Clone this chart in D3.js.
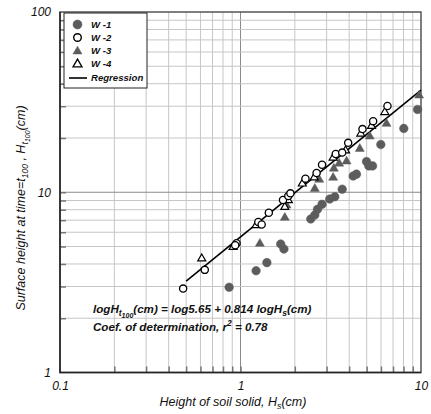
<!DOCTYPE html>
<html>
<head>
<meta charset="utf-8">
<script src="https://cdn.jsdelivr.net/npm/d3@7/dist/d3.min.js"></script>
<style>
  html, body { margin: 0; padding: 0; background: #fff; }
  svg { display: block; font-family: "Liberation Sans", Arial, sans-serif; }
</style>
</head>
<body>
<svg id="chart" width="431" height="414"></svg>
<script>
// Height of soil solid Hs (cm) vs. surface height at t100, Ht100 (cm)
const w1Hs = [0.865, 1.22, 1.40, 1.67, 1.74, 2.45, 2.58, 2.67, 2.83, 3.12, 3.33, 3.66, 4.21, 4.39, 4.99, 5.14, 5.39, 5.99, 8.03, 9.57];
const w1H  = [2.97, 3.67, 4.07, 5.16, 4.84, 7.11, 7.48, 8.04, 8.57, 9.17, 9.44, 10.4, 12.3, 12.6, 14.8, 14.0, 14.0, 18.4, 22.6, 28.8];

const w2Hs = [0.481, 0.634, 0.951, 0.935, 1.255, 1.31, 1.435, 1.72, 1.84, 1.89, 2.29, 2.64, 2.83, 3.37, 3.66, 3.95, 4.74, 5.43, 6.52];
const w2H  = [2.92, 3.71, 5.21, 5.08, 6.84, 6.62, 7.70, 9.05, 9.53, 9.86, 11.9, 12.8, 14.2, 16.3, 16.6, 18.8, 22.4, 24.8, 30.1];

const w3Hs = [1.28, 1.76, 1.80, 2.58, 2.73, 3.26, 3.29, 3.52, 3.87, 4.58, 5.20, 6.44, 9.76];
const w3H  = [5.21, 7.26, 8.49, 10.5, 11.8, 12.1, 13.6, 14.5, 14.9, 17.5, 20.5, 24.1, 34.6];

const w4Hs = [0.610, 0.910, 1.22, 1.76, 1.84, 2.20, 2.56, 3.26, 3.82, 4.64, 5.32, 6.30];
const w4H  = [4.30, 4.99, 6.58, 8.31, 9.05, 11.2, 12.1, 15.6, 17.1, 21.2, 23.4, 27.9];

// log Ht100 = log 5.65 + 0.814 log Hs
const regIntercept = 5.65;
const regSlope = 0.814;
const regHsRange = [0.5, 10];
const rSquared = 0.78;

const seriesNames = ["W -1", "W -2", "W -3", "W -4", "Regression"];
const xTickLabels = [0.1, 1, 10];
const yTickLabels = [1, 10, 100];

const svg = d3.select("#chart");
const plot = { left: 60, right: 421, top: 12, bottom: 372.5 };

const x = d3.scaleLog().domain([0.1, 10]).range([plot.left, plot.right]);
const y = d3.scaleLog().domain([1, 100]).range([plot.bottom, plot.top]);

const fillGray = "#5c5c5c";

// grid
const gx = x.ticks().filter(v => v > 0.1 && v < 10);
const gy = y.ticks().filter(v => v > 1 && v < 100);
const isDecade = v => Math.abs(Math.log10(v) - Math.round(Math.log10(v))) < 1e-9;

svg.append("g").selectAll("line").data(gx).join("line")
  .attr("x1", d => x(d)).attr("x2", d => x(d))
  .attr("y1", plot.top).attr("y2", plot.bottom)
  .attr("stroke", d => isDecade(d) ? "#8a8a8a" : "#c6c6c6")
  .attr("stroke-width", 1);
svg.append("g").selectAll("line").data(gy).join("line")
  .attr("y1", d => y(d)).attr("y2", d => y(d))
  .attr("x1", plot.left).attr("x2", plot.right)
  .attr("stroke", d => isDecade(d) ? "#8a8a8a" : "#c6c6c6")
  .attr("stroke-width", 1);

// inward minor ticks
const tickAxisX = d3.axisBottom(x).tickValues(gx).tickSize(-6).tickFormat("");
const tickAxisY = d3.axisLeft(y).tickValues(gy).tickSize(-6).tickFormat("");
const tx = svg.append("g").attr("transform", `translate(0,${plot.bottom})`).call(tickAxisX);
const ty = svg.append("g").attr("transform", `translate(${plot.left},0)`).call(tickAxisY);
[tx, ty].forEach(g => {
  g.select(".domain").remove();
  g.selectAll("line").attr("stroke", "#777").attr("stroke-width", 1.5);
});

// frame
svg.append("rect")
  .attr("x", plot.left).attr("y", plot.top)
  .attr("width", plot.right - plot.left).attr("height", plot.bottom - plot.top)
  .attr("fill", "none").attr("stroke", "#555").attr("stroke-width", 1.5);
svg.append("path")
  .attr("d", `M${plot.left},${plot.top}V${plot.bottom}H${plot.right}`)
  .attr("fill", "none").attr("stroke", "#222").attr("stroke-width", 1.5);

// tick labels
const fmt = d => String(d);
const xLab = svg.append("g").attr("transform", `translate(0,${plot.bottom})`)
  .call(d3.axisBottom(x).tickValues(xTickLabels).tickSize(0).tickPadding(9).tickFormat(fmt));
const yLab = svg.append("g").attr("transform", `translate(${plot.left},0)`)
  .call(d3.axisLeft(y).tickValues(yTickLabels).tickSize(0).tickPadding(9).tickFormat(fmt));
[xLab, yLab].forEach(g => {
  g.select(".domain").remove();
  g.selectAll("text").attr("font-size", 12).attr("font-style", "italic")
    .attr("fill", "#111").attr("font-family", "Liberation Sans, Arial, sans-serif");
});

// regression line
const regLine = d3.line().x(d => x(d)).y(d => y(regIntercept * Math.pow(d, regSlope)));
svg.append("path").datum(regHsRange)
  .attr("d", regLine).attr("fill", "none").attr("stroke", "#000").attr("stroke-width", 1.6);

// markers
const triPath = (s) => { const h = s * Math.sqrt(3) / 2; return `M0,${-h * 0.62}L${s / 2},${h * 0.38}L${-s / 2},${h * 0.38}Z`; };
function circles(hs, h, filled) {
  svg.append("g").selectAll("circle").data(hs.map((v, i) => [v, h[i]])).join("circle")
    .attr("cx", d => x(d[0])).attr("cy", d => y(d[1]))
    .attr("r", filled ? 4.3 : 3.6)
    .attr("fill", filled ? fillGray : "#fff")
    .attr("stroke", filled ? fillGray : "#000")
    .attr("stroke-width", filled ? 0.5 : 1.3);
}
function triangles(hs, h, filled) {
  svg.append("g").selectAll("path").data(hs.map((v, i) => [v, h[i]])).join("path")
    .attr("transform", d => `translate(${x(d[0])},${y(d[1])})`)
    .attr("d", triPath(filled ? 9 : 8))
    .attr("fill", filled ? fillGray : "#fff")
    .attr("stroke", filled ? fillGray : "#000")
    .attr("stroke-width", filled ? 0.5 : 1.2)
    .attr("stroke-linejoin", "miter");
}
circles(w1Hs, w1H, true);
triangles(w3Hs, w3H, true);
triangles(w4Hs, w4H, false);
circles(w2Hs, w2H, false);

// legend
const lg = svg.append("g");
lg.append("rect").attr("x", 64).attr("y", 13).attr("width", 83).attr("height", 75)
  .attr("fill", "#fff").attr("stroke", "#222").attr("stroke-width", 1);
const rowY = [24.5, 37.5, 51, 64, 78];
const mx = 77.5, tx0 = 91;
seriesNames.forEach((name, i) => {
  const cy = rowY[i];
  if (i === 0 || i === 1) {
    lg.append("circle").attr("cx", mx).attr("cy", cy).attr("r", i === 0 ? 4.5 : 3.8)
      .attr("fill", i === 0 ? fillGray : "#fff").attr("stroke", i === 0 ? fillGray : "#000")
      .attr("stroke-width", i === 0 ? 0.5 : 1.4);
  } else if (i === 2 || i === 3) {
    lg.append("path").attr("transform", `translate(${mx},${cy})`).attr("d", triPath(9))
      .attr("fill", i === 2 ? fillGray : "#fff").attr("stroke", i === 2 ? fillGray : "#000")
      .attr("stroke-width", i === 2 ? 0.5 : 1.3);
  } else {
    lg.append("line").attr("x1", 69).attr("x2", 87).attr("y1", cy).attr("y2", cy)
      .attr("stroke", "#000").attr("stroke-width", 1.6);
  }
  lg.append("text").attr("x", tx0).attr("y", cy).attr("dy", "0.35em")
    .attr("font-size", 9.6).attr("font-weight", "bold").attr("font-style", "italic")
    .attr("fill", "#111").text(name);
});

// regression equation
const eq = svg.append("text").attr("x", 93).attr("y", 313)
  .attr("font-size", 11.6).attr("font-weight", "bold").attr("font-style", "italic").attr("fill", "#111");
eq.append("tspan").text("logH");
eq.append("tspan").attr("font-size", 8.5).attr("dy", 3).text("t");
eq.append("tspan").attr("font-size", 7).attr("dy", 1.5).text("100");
eq.append("tspan").attr("dy", -4.5).text(`(cm) = log${regIntercept} + ${regSlope} logH`);
eq.append("tspan").attr("font-size", 8.5).attr("dy", 3).text("s");
eq.append("tspan").attr("dy", -3).text("(cm)");

const r2 = svg.append("text").attr("x", 93).attr("y", 330.5)
  .attr("font-size", 11.6).attr("font-weight", "bold").attr("font-style", "italic").attr("fill", "#111");
r2.append("tspan").text("Coef. of determination, r");
r2.append("tspan").attr("font-size", 8.5).attr("dy", -4.5).text("2");
r2.append("tspan").attr("dy", 4.5).text(` = ${rSquared}`);

// axis titles
const xt = svg.append("text").attr("x", 233).attr("y", 406).attr("text-anchor", "middle")
  .attr("font-size", 12.5).attr("font-style", "italic").attr("fill", "#111");
xt.append("tspan").text("Height of soil solid, H");
xt.append("tspan").attr("font-size", 9).attr("dy", 3).text("s");
xt.append("tspan").attr("dy", -3).text("(cm)");

const yt = svg.append("text").attr("transform", "translate(25,208) rotate(-90)")
  .attr("text-anchor", "middle").attr("font-size", 12.5).attr("font-style", "italic").attr("fill", "#111");
yt.append("tspan").text("Surface height at time=t");
yt.append("tspan").attr("font-size", 8.5).attr("dy", 3).text("100");
yt.append("tspan").attr("dy", -3).text(" , H");
yt.append("tspan").attr("font-size", 9).attr("dy", 3).text("t");
yt.append("tspan").attr("font-size", 7).attr("dy", 1.5).text("100");
yt.append("tspan").attr("dy", -4.5).text("(cm)");
</script>
</body>
</html>
